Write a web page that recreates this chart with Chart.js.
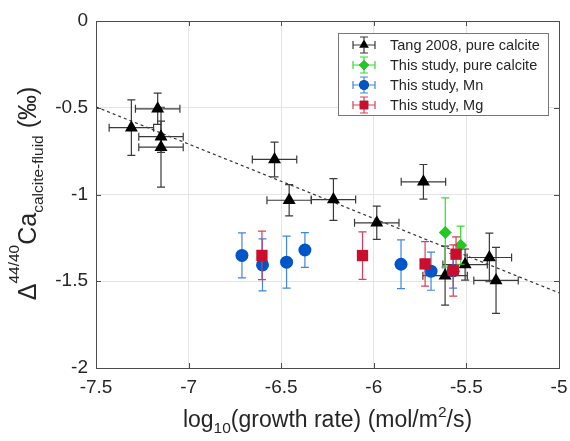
<!DOCTYPE html>
<html><head><meta charset="utf-8">
<script src="https://cdn.jsdelivr.net/npm/chart.js@4.4.0/dist/chart.umd.min.js"></script>
<style>html,body{margin:0;padding:0;background:#fff;}#wrap{width:570px;height:441px;}</style>
</head><body><div id="wrap"><canvas id="c" width="570" height="441"></canvas></div>
<script>
// ---- data ----
const xTicks = [-7.5, -7, -6.5, -6, -5.5, -5];
const yTicks = [-2, -1.5, -1, -0.5, 0];

const tangX    = [-7.309, -7.167, -7.149, -7.149, -6.536, -6.457, -6.218, -5.984, -5.732, -5.615, -5.507, -5.376, -5.340];
const tangY    = [-0.615, -0.506, -0.667, -0.727, -0.798, -1.033, -1.029, -1.163, -0.927, -1.468, -1.404, -1.363, -1.495];
const tangXErr = [0.12, 0.12, 0.12, 0.12, 0.12, 0.12, 0.12, 0.12, 0.12, 0.12, 0.12, 0.12, 0.12];
const tangYErr = [0.16, 0.09, 0.09, 0.23, 0.10, 0.09, 0.12, 0.096, 0.10, 0.17, 0.09, 0.14, 0.19];

const pureX    = [-5.614, -5.531];
const pureY    = [-1.219, -1.292];
const pureYErr = [0.20, 0.11];

const mnX    = [-6.712, -6.601, -6.471, -6.372, -5.853, -5.691, -5.572];
const mnY    = [-1.351, -1.406, -1.390, -1.320, -1.402, -1.442, -1.440];
const mnYErr = [0.13, 0.15, 0.15, 0.10, 0.14, 0.11, 0.10];

const mgX    = [-6.604, -6.061, -5.723, -5.556, -5.571];
const mgY    = [-1.351, -1.352, -1.400, -1.344, -1.438];
const mgYErr = [0.14, 0.137, 0.128, 0.10, 0.148];

const fitX = [-7.5, -5];
const fitY = [-0.495, -1.567];

const seriesLabels = ['Tang 2008, pure calcite', 'This study, pure calcite', 'This study, Mn', 'This study, Mg'];

// ---- helpers ----
const pts = (xs, ys) => xs.map((x, i) => ({x: x, y: ys[i]}));
const FONT = '"Liberation Sans", Arial, Helvetica, sans-serif';
const TXT = '#262626';

const errPlugin = {
  id: 'errbars',
  beforeDatasetDraw(chart, args) {
    const ds = chart.data.datasets[args.index];
    if (!ds.err) return;
    const xs = chart.scales.x, ys = chart.scales.y, ctx = chart.ctx;
    const a = chart.chartArea;
    ctx.save();
    ctx.beginPath(); ctx.rect(a.left, a.top, a.right - a.left, a.bottom - a.top); ctx.clip();
    ctx.strokeStyle = ds.err.color; ctx.lineWidth = 1.2;
    const cap = 4;
    ds.data.forEach((p, i) => {
      const px = xs.getPixelForValue(p.x), py = ys.getPixelForValue(p.y);
      const ye = ds.err.y ? ds.err.y[i] : 0;
      const xe = ds.err.x ? ds.err.x[i] : 0;
      ctx.beginPath();
      if (ye) {
        const t = ys.getPixelForValue(p.y + ye), b = ys.getPixelForValue(p.y - ye);
        ctx.moveTo(px, t); ctx.lineTo(px, b);
        ctx.moveTo(px - cap, t); ctx.lineTo(px + cap, t);
        ctx.moveTo(px - cap, b); ctx.lineTo(px + cap, b);
      }
      if (xe) {
        const l = xs.getPixelForValue(p.x - xe), r = xs.getPixelForValue(p.x + xe);
        ctx.moveTo(l, py); ctx.lineTo(r, py);
        ctx.moveTo(l, py - cap); ctx.lineTo(l, py + cap);
        ctx.moveTo(r, py - cap); ctx.lineTo(r, py + cap);
      }
      ctx.stroke();
    });
    ctx.restore();
  }
};

function drawRich(ctx, parts, x, y, align) {
  let total = 0;
  parts.forEach(p => { ctx.font = p[1] + 'px ' + FONT; total += ctx.measureText(p[0]).width; });
  let cx = align === 'center' ? x - total / 2 : x;
  parts.forEach(p => {
    ctx.font = p[1] + 'px ' + FONT;
    ctx.fillText(p[0], cx, y + p[2]);
    cx += ctx.measureText(p[0]).width;
  });
}

const framePlugin = {
  id: 'frame',
  afterDraw(chart) {
    const ctx = chart.ctx, a = chart.chartArea;
    const xs = chart.scales.x, ys = chart.scales.y;
    ctx.save();
    ctx.strokeStyle = '#4d4d4d'; ctx.lineWidth = 1;
    ctx.strokeRect(Math.round(a.left) + 0.5, Math.round(a.top) + 0.5, Math.round(a.right - a.left), Math.round(a.bottom - a.top));
    ctx.beginPath();
    xTicks.forEach(v => {
      const px = Math.round(xs.getPixelForValue(v)) + 0.5;
      ctx.moveTo(px, a.bottom); ctx.lineTo(px, a.bottom - 5);
      ctx.moveTo(px, a.top); ctx.lineTo(px, a.top + 5);
    });
    yTicks.forEach(v => {
      const py = Math.round(ys.getPixelForValue(v)) + 0.5;
      ctx.moveTo(a.left, py); ctx.lineTo(a.left + 5, py);
      ctx.moveTo(a.right, py); ctx.lineTo(a.right - 5, py);
    });
    ctx.stroke();

    ctx.fillStyle = TXT; ctx.textBaseline = 'alphabetic'; ctx.textAlign = 'left';
    const cxp = (a.left + a.right) / 2;
    drawRich(ctx, [['log', 23, 0], ['10', 15.5, 6], ['(growth rate) (mol/m', 23, 0], ['2', 15.5, -10], ['/s)', 23, 0]], cxp, 427, 'center');
    ctx.save();
    ctx.translate(36, (a.top + a.bottom) / 2 - 1);
    ctx.rotate(-Math.PI / 2);
    drawRich(ctx, [['\u0394', 25, 0], ['44/40', 15.5, -17], ['Ca', 25, 0], ['calcite-fluid', 15.5, 7], [' (\u2030)', 25, 0]], 0, 0, 'center');
    ctx.restore();

    const lx = 338.5, ly = 33.5, lw = 210, lh = 82;
    ctx.fillStyle = '#fff'; ctx.fillRect(lx, ly, lw, lh);
    ctx.strokeStyle = '#777'; ctx.lineWidth = 1; ctx.strokeRect(lx, ly, lw, lh);
    const sets = chart.data.datasets.filter(d => d.legendIdx !== undefined).sort((p, q) => p.legendIdx - q.legendIdx);
    sets.forEach((ds, k) => {
      const iy = 45 + k * 20, ix = 364;
      ctx.strokeStyle = ds.err.color; ctx.lineWidth = 1.2;
      ctx.beginPath();
      ctx.moveTo(ix - 11, iy); ctx.lineTo(ix + 11, iy);
      ctx.moveTo(ix - 11, iy - 4); ctx.lineTo(ix - 11, iy + 4);
      ctx.moveTo(ix + 11, iy - 4); ctx.lineTo(ix + 11, iy + 4);
      ctx.moveTo(ix, iy - 8); ctx.lineTo(ix, iy + 8);
      ctx.moveTo(ix - 4, iy - 8); ctx.lineTo(ix + 4, iy - 8);
      ctx.moveTo(ix - 4, iy + 8); ctx.lineTo(ix + 4, iy + 8);
      ctx.stroke();
      Chart.helpers.drawPoint(ctx, {pointStyle: ds.pointStyle, radius: ds.pointRadius * 0.75, borderWidth: 0}, ix, iy);
      ctx.fillStyle = ds.backgroundColor; ctx.fill();
      ctx.fillStyle = TXT; ctx.font = '14.5px ' + FONT; ctx.textBaseline = 'middle';
      ctx.fillText(ds.label, 390, iy + 1);
    });
    ctx.restore();
  }
};

const fmt = v => String(Math.round(v * 10) / 10);

new Chart(document.getElementById('c'), {
  type: 'scatter',
  data: {
    datasets: [
      {label: 'fit', type: 'line', data: pts(fitX, fitY), borderColor: '#333', borderWidth: 1.2, borderDash: [3, 3],
       pointRadius: 0, fill: false, order: 5},
      {label: seriesLabels[0], legendIdx: 0, data: pts(tangX, tangY), pointStyle: 'triangle', pointRadius: 7.5,
       backgroundColor: '#000', borderColor: '#000', borderWidth: 0, order: 4,
       err: {x: tangXErr, y: tangYErr, color: '#3a3a3a'}},
      {label: seriesLabels[1], legendIdx: 1, data: pts(pureX, pureY), pointStyle: 'rectRot', pointRadius: 6.5,
       backgroundColor: '#1ecb1e', borderColor: '#1ecb1e', borderWidth: 0, order: 3,
       err: {y: pureYErr, color: '#33dd33'}},
      {label: seriesLabels[2], legendIdx: 2, data: pts(mnX, mnY), pointStyle: 'circle', pointRadius: 6.5,
       backgroundColor: '#0055c8', borderColor: '#0055c8', borderWidth: 0, order: 2,
       err: {y: mnYErr, color: '#3f86e0'}},
      {label: seriesLabels[3], legendIdx: 3, data: pts(mgX, mgY), pointStyle: 'rect', pointRadius: 8,
       backgroundColor: '#c8102e', borderColor: '#c8102e', borderWidth: 0, order: 1,
       err: {y: mgYErr, color: '#dc3c5a'}}
    ]
  },
  options: {
    responsive: false, devicePixelRatio: 1, animation: false,
    layout: {padding: {top: 21, right: 11, left: 0, bottom: 0}},
    plugins: {legend: {display: false}, tooltip: {enabled: false}},
    scales: {
      x: {type: 'linear', min: -7.5, max: -5,
          afterBuildTicks: s => { s.ticks = xTicks.map(v => ({value: v})); },
          afterFit: s => { s.height = 73; s.paddingRight = 0; s.paddingLeft = 0; },
          ticks: {font: {size: 19, family: FONT}, color: TXT, padding: 8, maxRotation: 0, callback: fmt},
          grid: {color: '#e4e4e4', drawTicks: false}, border: {display: false}},
      y: {type: 'linear', min: -2, max: 0,
          afterBuildTicks: s => { s.ticks = yTicks.map(v => ({value: v})); },
          afterFit: s => { s.width = 96; s.paddingTop = 0; s.paddingBottom = 0; },
          ticks: {font: {size: 19, family: FONT}, color: TXT, padding: 8, callback: fmt},
          grid: {color: '#e4e4e4', drawTicks: false}, border: {display: false}}
    }
  },
  plugins: [errPlugin, framePlugin]
});
</script></body></html>
